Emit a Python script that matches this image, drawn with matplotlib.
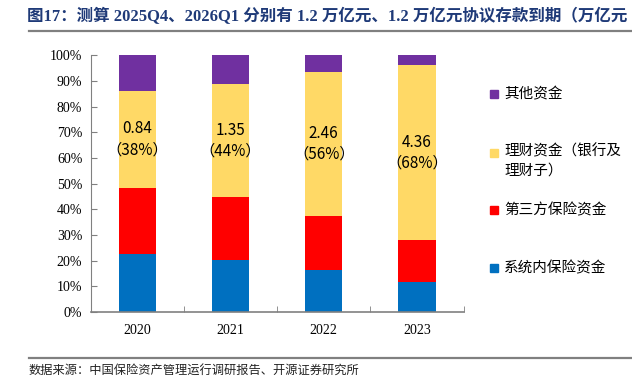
import matplotlib
matplotlib.use("Agg")
import matplotlib.pyplot as plt
from matplotlib.patches import Rectangle
from matplotlib.lines import Line2D
import numpy as np

years = ["2020", "2021", "2022", "2023"]
series_names = ["系统内保险资金", "第三方保险资金", "理财资金（银行及\n理财子）", "其他资金"]
inhouse_ins = [22.7, 20.4, 16.4, 11.8]
third_party_ins = [25.7, 24.5, 21.1, 16.2]
wealth_mgmt = [37.8, 43.8, 55.9, 68.3]
other_funds = [13.8, 11.3, 6.6, 3.7]
amounts = ["0.84", "1.35", "2.46", "4.36"]
shares = ["38%", "44%", "56%", "68%"]
yticks = [0, 10, 20, 30, 40, 50, 60, 70, 80, 90, 100]

colors = ["#0070C0", "#FF0000", "#FFD966", "#7030A0"]

cjk = ["Noto Sans CJK SC", "DejaVu Sans"]
serif = ["Liberation Serif", "Noto Sans CJK SC"]

fig = plt.figure(figsize=(6.32, 3.89), dpi=100)
W, H = 632, 389
ax = fig.add_axes([90.7 / W, 1 - 312 / H, (463.5 - 90.7) / W, (312 - 55.3) / H])

x = np.arange(len(years))
data = [inhouse_ins, third_party_ins, wealth_mgmt, other_funds]
bottom = np.zeros(len(years))
for vals, c in zip(data, colors):
    ax.bar(x, vals, width=0.4, bottom=bottom, color=c, edgecolor="none")
    bottom += np.array(vals)

# labels in yellow segment
yb = np.array(inhouse_ins) + np.array(third_party_ins)
for i in range(len(years)):
    yc = yb[i] + wealth_mgmt[i] / 2
    ax.text(x[i], yc, amounts[i] + "\n（" + shares[i] + "）", ha="center", va="center",
            fontsize=11, family=cjk, color="#000000", linespacing=1.3)

ax.set_xlim(-0.5, 3.5)
ax.set_ylim(0, 100)
ax.set_yticks(yticks)
ax.set_yticklabels([f"{v}%" for v in yticks], family=serif, fontsize=10)
ax.set_xticks(x)
ax.set_xticklabels(years, family=serif, fontsize=10)
ax.tick_params(axis="x", length=0, pad=9)
ax.tick_params(axis="y", direction="in", length=4, color="#808080", pad=6)
# category separator ticks
ax.set_xticks([0.5, 1.5, 2.5, 3.5], minor=True)
ax.tick_params(axis="x", which="minor", direction="in", length=4, color="#808080")
for s in ["top", "right"]:
    ax.spines[s].set_visible(False)
ax.spines["left"].set_color("#808080")
ax.spines["bottom"].set_color("#808080")
ax.spines["bottom"].set_linewidth(1.2)

# legend (manual)
leg_y = [268, 210, 153, 94]
for name, c, yy in zip(series_names, colors, leg_y):
    fig.patches.append(Rectangle((490 / W, 1 - (yy + 4) / H), 8 / W, 8 / H,
                                 transform=fig.transFigure, color=c, figure=fig))
    multi = "\n" in name
    fig.text(504 / W, 1 - ((yy - 9) if multi else yy) / H, name, ha="left",
             va="top" if multi else "center",
             fontsize=10.5, family=cjk, color="#000000", linespacing=1.5)

# title
fig.text(27 / W, 1 - 17 / H, "图17：测算 2025Q4、2026Q1 分别有 1.2 万亿元、1.2 万亿元协议存款到期（万亿元",
         ha="left", va="center", fontsize=11.9, fontweight="bold", family=serif, color="#1F3A78")
fig.add_artist(Line2D([29 / W, 1], [1 - 30.5 / H, 1 - 30.5 / H], color="#808080", lw=1.6,
                      transform=fig.transFigure))
fig.add_artist(Line2D([29 / W, 1], [1 - 358 / H, 1 - 358 / H], color="#808080", lw=1.6,
                      transform=fig.transFigure))
fig.text(29 / W, 1 - 370 / H, "数据来源：中国保险资产管理运行调研报告、开源证券研究所",
         ha="left", va="center", fontsize=8.8, family=cjk, color="#222222")

fig.savefig("out.png", dpi=100)
